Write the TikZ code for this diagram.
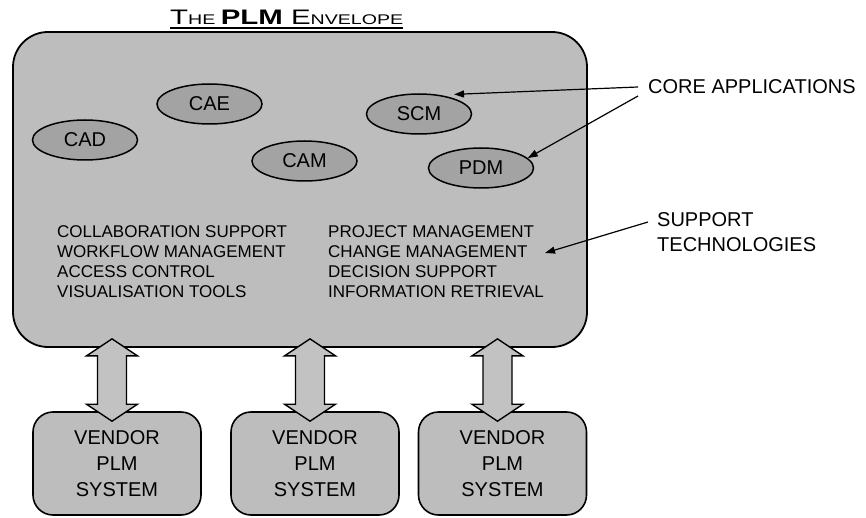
\documentclass[tikz,border=0pt]{standalone}
\usepackage{fontspec}
\setmainfont{Liberation Sans}
\newfontfamily\widefont[FakeStretch=1.4]{Liberation Sans}
\usetikzlibrary{arrows.meta,calc,shapes.geometric}
\definecolor{panel}{gray}{0.74}
\definecolor{appfill}{gray}{0.64}
\definecolor{linkfill}{gray}{0.76}

% hollow two-headed arrow between two named points (top tip, bottom tip)
\newcommand\linkarrow[2]{%
  \draw[linkarrow]
    (#1) -- ([xshift=25.5pt,yshift=-17pt]#1) -- ([xshift=14.5pt,yshift=-17pt]#1)
    -- ([xshift=14.5pt,yshift=17pt]#2) -- ([xshift=25.5pt,yshift=17pt]#2)
    -- (#2) -- ([xshift=-25.5pt,yshift=17pt]#2) -- ([xshift=-14.5pt,yshift=17pt]#2)
    -- ([xshift=-14.5pt,yshift=-17pt]#1) -- ([xshift=-25.5pt,yshift=-17pt]#1) -- cycle;}

\begin{document}
\begin{tikzpicture}[x=1pt,y=-1pt,
  envbox/.style={draw, line width=1.8pt, fill=panel, rounded corners=35pt,
    minimum width=574pt, minimum height=315pt, inner sep=0pt},
  app/.style={ellipse, draw, line width=1.5pt, fill=appfill, minimum width=105pt,
    minimum height=40pt, inner sep=0pt, font=\fontsize{20}{20}\selectfont},
  tech/.style={anchor=base west, inner sep=0pt, font=\fontsize{17}{17}\selectfont},
  label/.style={anchor=west, inner sep=0pt, font=\fontsize{20}{20}\selectfont},
  vendor/.style={draw, line width=1.6pt, fill=panel, rounded corners=20pt,
    minimum width=168pt, minimum height=103pt, inner sep=0pt, align=center,
    font=\fontsize{20}{26}\selectfont},
  pointer/.style={line width=1.2pt, -{Triangle[length=10pt,width=7pt]}},
  linkarrow/.style={draw, line width=1.4pt, fill=linkfill, line join=miter}
]
\useasboundingbox (0,0) rectangle (866,518);

% title
\node[anchor=base west, inner sep=0pt, font=\widefont] (title) at (170,25)
  {\fontsize{21}{21}\selectfont T\fontsize{14}{14}\selectfont HE
   \fontsize{21}{21}\selectfont\bfseries PLM \mdseries E\fontsize{14}{14}\selectfont NVELOPE};
\draw[line width=1.2pt] ([yshift=-3pt]title.base west) -- ([yshift=-3pt]title.base east);

% the envelope
\node[envbox] (env) at (300,189.5) {};

% core applications
\node[app] (cad) at (85,140) {CAD};
\node[app] (cae) at (209.5,104) {CAE};
\node[app] (cam) at (304.5,161) {CAM};
\node[app] (scm) at (419,114) {SCM};
\node[app] (pdm) at (481,168) {PDM};

% support technologies
\node[tech] (c1) at (57,238) {COLLABORATION SUPPORT};
\node[tech] (c2) at (57,257.7) {WORKFLOW MANAGEMENT};
\node[tech] (c3) at (57,277.4) {ACCESS CONTROL};
\node[tech] (c4) at (57,297) {VISUALISATION TOOLS};
\node[tech] (d1) at (328,238) {PROJECT MANAGEMENT};
\node[tech] (d2) at (328,257.7) {CHANGE MANAGEMENT};
\node[tech] (d3) at (328,277.4) {DECISION SUPPORT};
\node[tech] (d4) at (328,297) {INFORMATION RETRIEVAL};

% side labels
\node[label] (core) at (648,87) {CORE APPLICATIONS};
\node[label] (sup1) at (657,220) {SUPPORT};
\node[label] (sup2) at (657,245) {TECHNOLOGIES};

\draw[pointer] ([xshift=-10pt]core.west) -- ([yshift=4pt]scm.24);
\draw[pointer] ([xshift=-10pt,yshift=-9pt]core.west) -- (pdm.12);
\coordinate (suptip) at (545,253);
\draw[pointer] ([xshift=-9pt,yshift=-2pt]sup1.west) -- (suptip);

% vendor systems
\node[vendor] (v1) at (117,463.5) {VENDOR\\PLM\\SYSTEM};
\node[vendor] (v2) at (315,463.5) {VENDOR\\PLM\\SYSTEM};
\node[vendor] (v3) at (502.5,463.5) {VENDOR\\PLM\\SYSTEM};

% links between the envelope and each vendor system
\foreach \v in {1,2,3}{
  \coordinate (t\v) at ($(v\v.north |- env.south)+(-5,-9)$);
  \coordinate (b\v) at ($(v\v.north)+(-5,10)$);
}
\linkarrow{t1}{b1}
\linkarrow{t2}{b2}
\linkarrow{t3}{b3}
\end{tikzpicture}
\end{document}
